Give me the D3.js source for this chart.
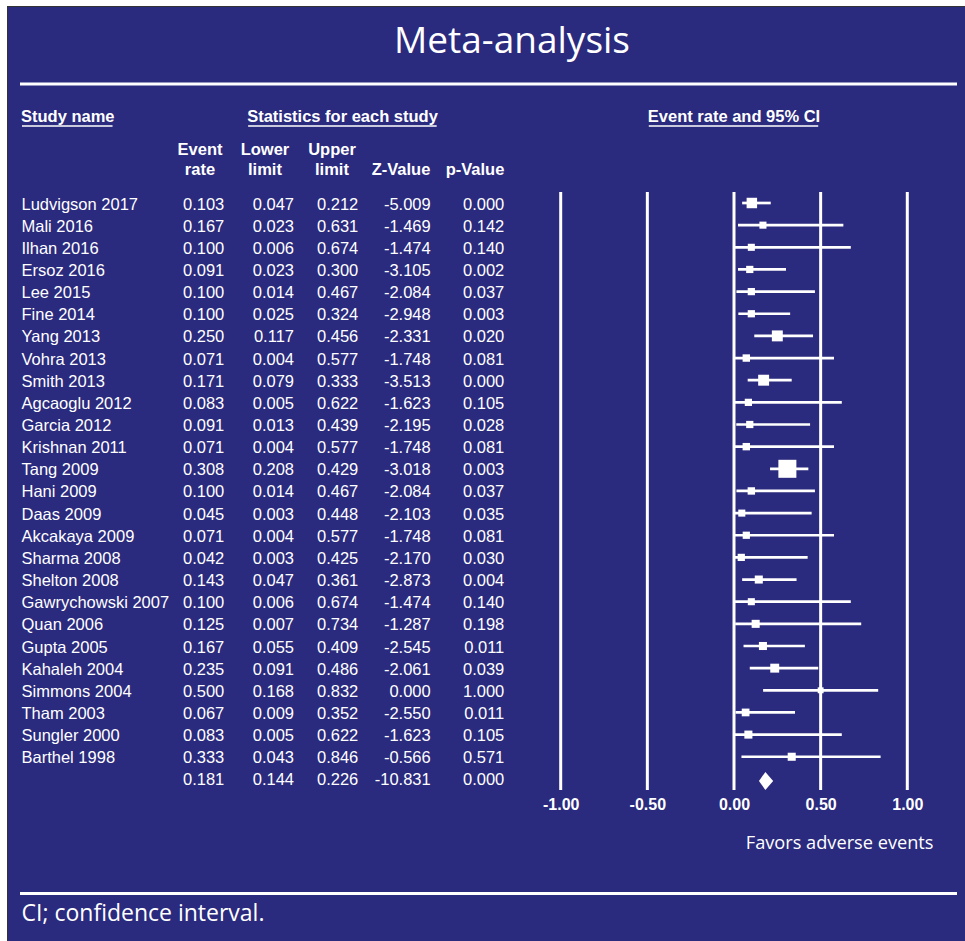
<!DOCTYPE html>
<html>
<head>
<meta charset="utf-8">
<script src="https://cdn.jsdelivr.net/npm/d3@7"></script>
<style>
  html, body { margin: 0; padding: 0; background: #ffffff; }
  svg { display: block; }
</style>
</head>
<body>
<div id="chart"></div>
<script>
// ---------------- DATA ----------------
const studies = ["Ludvigson 2017","Mali 2016","Ilhan 2016","Ersoz 2016","Lee 2015","Fine 2014",
  "Yang 2013","Vohra 2013","Smith 2013","Agcaoglu 2012","Garcia 2012","Krishnan 2011","Tang 2009",
  "Hani 2009","Daas 2009","Akcakaya 2009","Sharma 2008","Shelton 2008","Gawrychowski 2007",
  "Quan 2006","Gupta 2005","Kahaleh 2004","Simmons 2004","Tham 2003","Sungler 2000","Barthel 1998"];
const eventRate = [0.103,0.167,0.100,0.091,0.100,0.100,0.250,0.071,0.171,0.083,0.091,0.071,0.308,
  0.100,0.045,0.071,0.042,0.143,0.100,0.125,0.167,0.235,0.500,0.067,0.083,0.333];
const lowerLimit = [0.047,0.023,0.006,0.023,0.014,0.025,0.117,0.004,0.079,0.005,0.013,0.004,0.208,
  0.014,0.003,0.004,0.003,0.047,0.006,0.007,0.055,0.091,0.168,0.009,0.005,0.043];
const upperLimit = [0.212,0.631,0.674,0.300,0.467,0.324,0.456,0.577,0.333,0.622,0.439,0.577,0.429,
  0.467,0.448,0.577,0.425,0.361,0.674,0.734,0.409,0.486,0.832,0.352,0.622,0.846];
const zValue = [-5.009,-1.469,-1.474,-3.105,-2.084,-2.948,-2.331,-1.748,-3.513,-1.623,-2.195,-1.748,
  -3.018,-2.084,-2.103,-1.748,-2.170,-2.873,-1.474,-1.287,-2.545,-2.061,0.000,-2.550,-1.623,-0.566];
const pValue = [0.000,0.142,0.140,0.002,0.037,0.003,0.020,0.081,0.000,0.105,0.028,0.081,0.003,
  0.037,0.035,0.081,0.030,0.004,0.140,0.198,0.011,0.039,1.000,0.011,0.105,0.571];
// relative weights
const relWeight = [4.4,2.0,2.0,2.1,2.1,2.1,4.8,2.2,4.8,2.1,2.1,2.2,13.0,2.2,2.0,2.1,2.1,2.6,2.0,
  2.6,2.6,3.2,1.4,2.4,2.6,2.6];
const summaryRate = 0.181, summaryLower = 0.144, summaryUpper = 0.226, summaryZ = -10.831, summaryP = 0.000;
const xTicks = [-1, -0.5, 0, 0.5, 1];
const colHeaders = [["Event","rate"],["Lower","limit"],["Upper","limit"],["","Z-Value"],["","p-Value"]];

// ---------------- LAYOUT ----------------
const W = 965, H = 941;
const BG = "#2a2a7e", FG = "#ffffff";
const SANS = "'Liberation Sans', Arial, sans-serif";
const TITLEFONT = "'Open Sans', sans-serif";

const svg = d3.select("#chart").append("svg").attr("width", W).attr("height", H);

svg.append("rect").attr("x", 7.5).attr("y", 6.5).attr("width", W - 7).attr("height", H - 6)
  .attr("fill", BG).attr("stroke", "#333").attr("stroke-width", 1);

// title
svg.append("text").attr("x", 512).attr("y", 53).attr("text-anchor", "middle")
  .attr("font-family", TITLEFONT).attr("font-size", 37).attr("fill", FG).text("Meta-analysis");

// rules
[84, 893.5].forEach(y => svg.append("line").attr("x1", 20).attr("x2", 957).attr("y1", y).attr("y2", y)
  .attr("stroke", FG).attr("stroke-width", 3));

const x = d3.scaleLinear().domain([-1, 1]).range([560.7, 907.3]);
const nRows = studies.length + 1;
const y = d3.scaleLinear().domain([0, nRows - 1]).range([203, 203 + (nRows - 1) * 22.15]);
const boxSize = d3.scaleSqrt().domain([0, d3.max(relWeight)]).range([0, 18]);

// group headers with underline
function underlined(txt, xpos, anchor) {
  const t = svg.append("text").attr("x", xpos).attr("y", 121.5).attr("text-anchor", anchor)
    .attr("font-family", SANS).attr("font-weight", "bold").attr("font-size", 16.5).attr("fill", FG).text(txt);
  const b = t.node().getBBox();
  svg.append("line").attr("x1", b.x + 1).attr("x2", b.x + b.width - 2).attr("y1", 126).attr("y2", 126)
    .attr("stroke", FG).attr("stroke-width", 1.7);
}
underlined("Study name", 21, "start");
underlined("Statistics for each study", 342.5, "middle");
underlined("Event rate and 95% CI", x(0), "middle");

// column headers
const colCenters = [200, 265, 332, 401, 475];
const colRight = [224.3, 294, 358.3, 430.7, 504.3];
colHeaders.forEach((h, i) => {
  h.forEach((line, j) => {
    if (!line) return;
    svg.append("text").attr("x", colCenters[i]).attr("y", j === 0 ? 155 : 174.5).attr("text-anchor", "middle")
      .attr("font-family", SANS).attr("font-weight", "bold").attr("font-size", 16.5).attr("fill", FG).text(line);
  });
});

// table rows
const f3 = d3.format(".3f");
const rows = studies.map((s, i) => ({name: s, vals: [eventRate[i], lowerLimit[i], upperLimit[i], zValue[i], pValue[i]]}));
rows.push({name: "", vals: [summaryRate, summaryLower, summaryUpper, summaryZ, summaryP]});
const fmt = v => f3(v).replace("\u2212", "-");

const tbl = svg.append("g").attr("font-family", SANS).attr("font-size", 16.5).attr("fill", FG);
rows.forEach((r, i) => {
  tbl.append("text").attr("x", 21.5).attr("y", y(i) + 6.5).text(r.name);
  r.vals.forEach((v, k) => {
    tbl.append("text").attr("x", colRight[k]).attr("y", y(i) + 6.5).attr("text-anchor", "end").text(fmt(v));
  });
});

// forest plot grid lines
const plot = svg.append("g");
plot.selectAll("line.grid").data(xTicks).join("line").attr("class", "grid")
  .attr("x1", d => x(d)).attr("x2", d => x(d)).attr("y1", 192).attr("y2", 790)
  .attr("stroke", FG).attr("stroke-width", 3);

// tick labels via axis
const axis = d3.axisBottom(x).tickValues(xTicks).tickFormat(d => d3.format(".2f")(d).replace("\u2212", "-")).tickSize(0).tickPadding(0);
const ag = svg.append("g").attr("transform", "translate(0,799)").call(axis);
ag.select(".domain").remove();
ag.selectAll("text").attr("font-family", SANS).attr("font-weight", "bold").attr("font-size", 16)
  .attr("fill", FG).attr("dy", "0.71em");

// CI lines
const st = d3.range(studies.length);
plot.selectAll("line.ci").data(st).join("line").attr("class", "ci")
  .attr("x1", i => x(lowerLimit[i])).attr("x2", i => x(upperLimit[i]))
  .attr("y1", i => y(i)).attr("y2", i => y(i)).attr("stroke", FG).attr("stroke-width", 2.7);

// boxes
plot.selectAll("rect.box").data(st).join("rect").attr("class", "box")
  .attr("x", i => x(eventRate[i]) - boxSize(relWeight[i]) / 2)
  .attr("y", i => y(i) - boxSize(relWeight[i]) / 2)
  .attr("width", i => boxSize(relWeight[i])).attr("height", i => boxSize(relWeight[i]))
  .attr("fill", FG);

// summary diamond
const yd = y(nRows - 1) + 2;
plot.append("path")
  .attr("d", `M${x(summaryLower)},${yd} L${x(summaryRate)},${yd - 9} L${x(summaryUpper)},${yd} L${x(summaryRate)},${yd + 9} Z`)
  .attr("fill", FG);

// favors label
svg.append("text").attr("x", 933.5).attr("y", 848.5).attr("text-anchor", "end")
  .attr("font-family", TITLEFONT).attr("font-size", 18.2).attr("fill", FG).text("Favors adverse events");

// footnote
svg.append("text").attr("x", 21.5).attr("y", 921).attr("font-family", TITLEFONT).attr("font-size", 23)
  .attr("fill", FG).text("CI; confidence interval.");
</script>
</body>
</html>
